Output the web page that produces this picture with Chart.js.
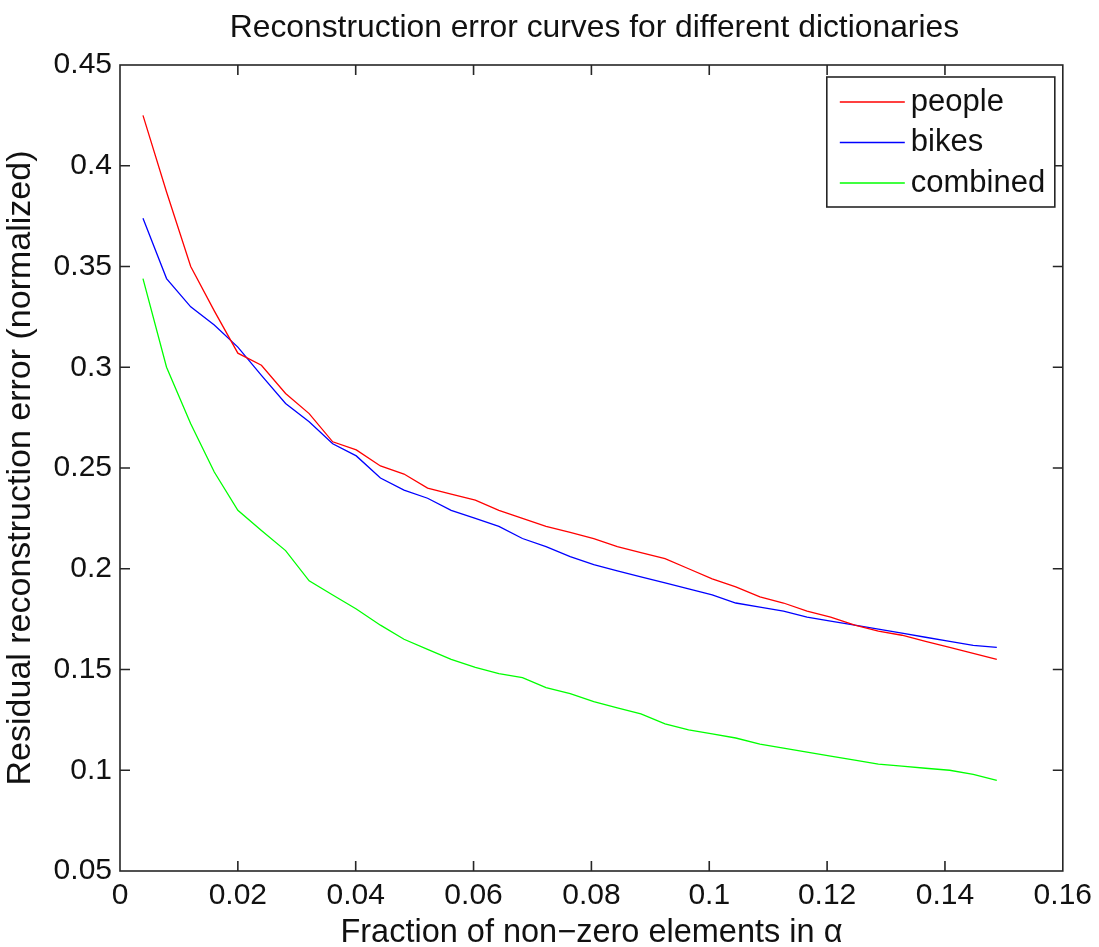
<!DOCTYPE html>
<html>
<head>
<meta charset="utf-8">
<script src="https://cdn.jsdelivr.net/npm/chart.js@4.4.1/dist/chart.umd.min.js"></script>
<style>
  html, body { margin: 0; padding: 0; background: #ffffff; }
  #wrap { width: 1099px; height: 947px; }
</style>
</head>
<body>
<div id="wrap"><canvas id="c" width="1099" height="947"></canvas></div>
<script>
// ---- data ----
const xValues = [0.0039,0.0079,0.0120,0.0160,0.0200,0.0240,0.0281,0.0321,0.0361,0.0401,
                 0.0442,0.0482,0.0522,0.0562,0.0603,0.0643,0.0683,0.0723,0.0764,0.0804,
                 0.0844,0.0884,0.0925,0.0965,0.1005,0.1045,0.1086,0.1126,0.1166,0.1206,
                 0.1247,0.1287,0.1327,0.1367,0.1408,0.1448,0.1488];
const people   = [0.425,0.387,0.350,0.328,0.307,0.301,0.287,0.277,0.263,0.259,
                  0.251,0.247,0.240,0.237,0.234,0.229,0.225,0.221,0.218,0.215,
                  0.211,0.208,0.205,0.200,0.195,0.191,0.186,0.183,0.179,0.176,
                  0.172,0.169,0.167,0.164,0.161,0.158,0.155];
const bikes    = [0.374,0.344,0.330,0.321,0.310,0.296,0.282,0.273,0.262,0.256,
                  0.245,0.239,0.235,0.229,0.225,0.221,0.215,0.211,0.206,0.202,
                  0.199,0.196,0.193,0.190,0.187,0.183,0.181,0.179,0.176,0.174,
                  0.172,0.170,0.168,0.166,0.164,0.162,0.161];
const combined = [0.344,0.300,0.272,0.248,0.229,0.219,0.209,0.194,0.187,0.180,
                  0.172,0.165,0.160,0.155,0.151,0.148,0.146,0.141,0.138,0.134,
                  0.131,0.128,0.123,0.120,0.118,0.116,0.113,0.111,0.109,0.107,
                  0.105,0.103,0.102,0.101,0.100,0.098,0.095];
const seriesNames = ['people', 'bikes', 'combined'];
const xTicks = [0,0.02,0.04,0.06,0.08,0.10,0.12,0.14,0.16];
const xTickLabels = ['0','0.02','0.04','0.06','0.08','0.1','0.12','0.14','0.16'];
const yTicks = [0.05,0.10,0.15,0.20,0.25,0.30,0.35,0.40,0.45];
const yTickLabels = ['0.05','0.1','0.15','0.2','0.25','0.3','0.35','0.4','0.45'];
const titleText = 'Reconstruction error curves for different dictionaries';
const xTitle = 'Fraction of non\u2212zero elements in \u03b1';
const yTitle = 'Residual reconstruction error (normalized)';

const FONT = '"Liberation Sans", Arial, Helvetica, sans-serif';
const pairs = arr => xValues.map((x, i) => ({ x: x, y: arr[i] }));

const framePlugin = {
  id: 'matlabFrame',
  afterDraw(chart) {
    const ctx = chart.ctx;
    const a = chart.chartArea;
    const xs = chart.scales.x, ys = chart.scales.y;
    ctx.save();
    ctx.strokeStyle = '#262626';
    ctx.lineWidth = 1.6;
    ctx.strokeRect(a.left, a.top, a.right - a.left, a.bottom - a.top);
    ctx.beginPath();
    const tl = 10;
    xTicks.forEach(v => {
      const p = xs.getPixelForValue(v);
      if (p <= a.left + 1 || p >= a.right - 1) return;
      ctx.moveTo(p, a.bottom); ctx.lineTo(p, a.bottom - tl);
      ctx.moveTo(p, a.top); ctx.lineTo(p, a.top + tl);
    });
    yTicks.forEach(v => {
      const p = ys.getPixelForValue(v);
      if (p <= a.top + 1 || p >= a.bottom - 1) return;
      ctx.moveTo(a.left, p); ctx.lineTo(a.left + tl, p);
      ctx.moveTo(a.right, p); ctx.lineTo(a.right - tl, p);
    });
    ctx.stroke();

    // title
    ctx.fillStyle = '#111';
    ctx.font = '31.8px ' + FONT;
    ctx.textAlign = 'center';
    ctx.textBaseline = 'middle';
    ctx.fillText(titleText, (a.left + a.right) / 2 + 3, 28);

    // legend box
    const bx = a.right - 236, by = a.top + 12, bw = 228, bh = 130;
    ctx.fillStyle = '#ffffff';
    ctx.fillRect(bx, by, bw, bh);
    ctx.strokeStyle = '#262626';
    ctx.lineWidth = 1.6;
    ctx.strokeRect(bx, by, bw, bh);
    ctx.font = '31px ' + FONT;
    ctx.textAlign = 'left';
    ctx.textBaseline = 'middle';
    chart.data.datasets.forEach((ds, i) => {
      const ly = by + 25 + i * 40.5;
      ctx.strokeStyle = ds.borderColor;
      ctx.lineWidth = 1.4;
      ctx.beginPath();
      ctx.moveTo(bx + 13, ly); ctx.lineTo(bx + 78, ly);
      ctx.stroke();
      ctx.fillStyle = '#111';
      ctx.fillText(ds.label, bx + 84, ly);
    });
    ctx.restore();
  }
};

new Chart(document.getElementById('c'), {
  type: 'line',
  data: {
    datasets: [
      { label: seriesNames[0], data: pairs(people),   borderColor: '#ff0000' },
      { label: seriesNames[1], data: pairs(bikes),    borderColor: '#0000ff' },
      { label: seriesNames[2], data: pairs(combined), borderColor: '#00ff00' }
    ]
  },
  options: {
    responsive: false,
    animation: false,
    layout: { padding: { top: 65, right: 36, left: 0, bottom: 0 } },
    elements: {
      line: { borderWidth: 1.3, tension: 0, fill: false },
      point: { radius: 0 }
    },
    plugins: {
      legend: { display: false },
      title: { display: false },
      tooltip: { enabled: false }
    },
    scales: {
      x: {
        type: 'linear',
        min: 0, max: 0.16,
        afterBuildTicks: s => { s.ticks = xTicks.map(v => ({ value: v })); },
        afterFit: s => { s.height = 76; },
        grid: { display: false, drawTicks: false },
        border: { display: false },
        ticks: {
          padding: 7,
          color: '#111',
          font: { family: FONT, size: 30 },
          maxRotation: 0,
          autoSkip: false,
          callback: (v, i) => xTickLabels[i]
        },
        title: {
          display: true,
          text: xTitle,
          color: '#111',
          font: { family: FONT, size: 32.5, lineHeight: 1.0 },
          padding: { top: 0, bottom: -2 }
        }
      },
      y: {
        type: 'linear',
        min: 0.05, max: 0.45,
        afterBuildTicks: s => { s.ticks = yTicks.map(v => ({ value: v })); },
        afterFit: s => { s.width = 120; },
        grid: { display: false, drawTicks: false },
        border: { display: false },
        ticks: {
          padding: 8,
          color: '#111',
          font: { family: FONT, size: 30 },
          autoSkip: false,
          callback: (v, i) => yTickLabels[i]
        },
        title: {
          display: true,
          text: yTitle,
          color: '#111',
          font: { family: FONT, size: 34, lineHeight: 1.0 },
          padding: { top: 4, bottom: 0 }
        }
      }
    }
  },
  plugins: [framePlugin]
});
</script>
</body>
</html>
